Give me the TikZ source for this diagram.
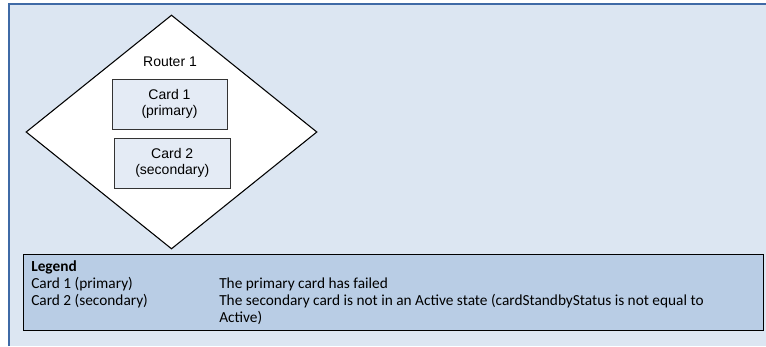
\documentclass[tikz,border=0pt]{standalone}
\usepackage{fontspec}
\setmainfont{Liberation Sans}
\newfontfamily\legendfont{Carlito}
\usetikzlibrary{shapes.geometric}
\definecolor{bgblue}{HTML}{DCE6F2}
\definecolor{frameblue}{HTML}{3F6AA6}
\definecolor{legendblue}{HTML}{B9CDE5}
\definecolor{cardfill}{HTML}{E4EBF5}
\definecolor{cardline}{HTML}{333333}
\begin{document}
\begin{tikzpicture}[x=0.75pt,y=-0.75pt,
  routerbox/.style={diamond,draw=black,fill=white,line width=0.8pt,inner sep=0pt,
    minimum width=218.25pt,minimum height=175.5pt},
  cardbox/.style={draw=cardline,fill=cardfill,line width=0.6pt,inner sep=0pt,
    minimum width=86.4pt,minimum height=37.5pt,align=center,
    font=\fontsize{10.5pt}{12pt}\selectfont},
  diagtext/.style={font=\fontsize{10.5pt}{12pt}\selectfont,inner sep=0pt},
  legendtext/.style={font=\legendfont\fontsize{11.5pt}{13pt}\selectfont,inner sep=0pt,anchor=base west}]
\useasboundingbox (0,0) rectangle (766,346);
\fill[white] (0,0) rectangle (766,346);
\fill[bgblue] (8.5,4.5) rectangle (766,346);
\coordinate (fbl) at (8.5,346);
\coordinate (ftl) at (8.5,4.5);
\coordinate (ftr) at (766,4.5);
\draw[frameblue,line width=1.5pt] (fbl) -- (ftl) -- (ftr);
% router
\node[routerbox] (router) at (171.5,132) {};
\node[diagtext] (routerlabel) at (170,62) {Router 1};
\node[cardbox] (card1) at (169.5,104) {Card 1\\(primary)};
\node[cardbox,minimum width=86.6pt,minimum height=37.9pt] (card2) at (172.25,163.25) {Card 2\\(secondary)};
% legend
\node[draw=black,fill=legendblue,line width=0.8pt,inner sep=0pt,anchor=north west,
  minimum width=555pt,minimum height=57pt] (legend) at (23,254) {};
\node[legendtext,font=\legendfont\bfseries\fontsize{11.5pt}{13pt}\selectfont] (lgtitle) at (31,271) {Legend};
\node[legendtext] (lgc1) at (31,288.5) {Card 1 (primary)};
\node[legendtext] (lgc2) at (31,305.5) {Card 2 (secondary)};
\node[legendtext] (lgd1) at (219,288.5) {The primary card has failed};
\node[legendtext] (lgd2) at (219,305.5) {The secondary card is not in an Active state (cardStandbyStatus is not equal to};
\node[legendtext] (lgd3) at (219,322.5) {Active)};
\end{tikzpicture}
\end{document}
